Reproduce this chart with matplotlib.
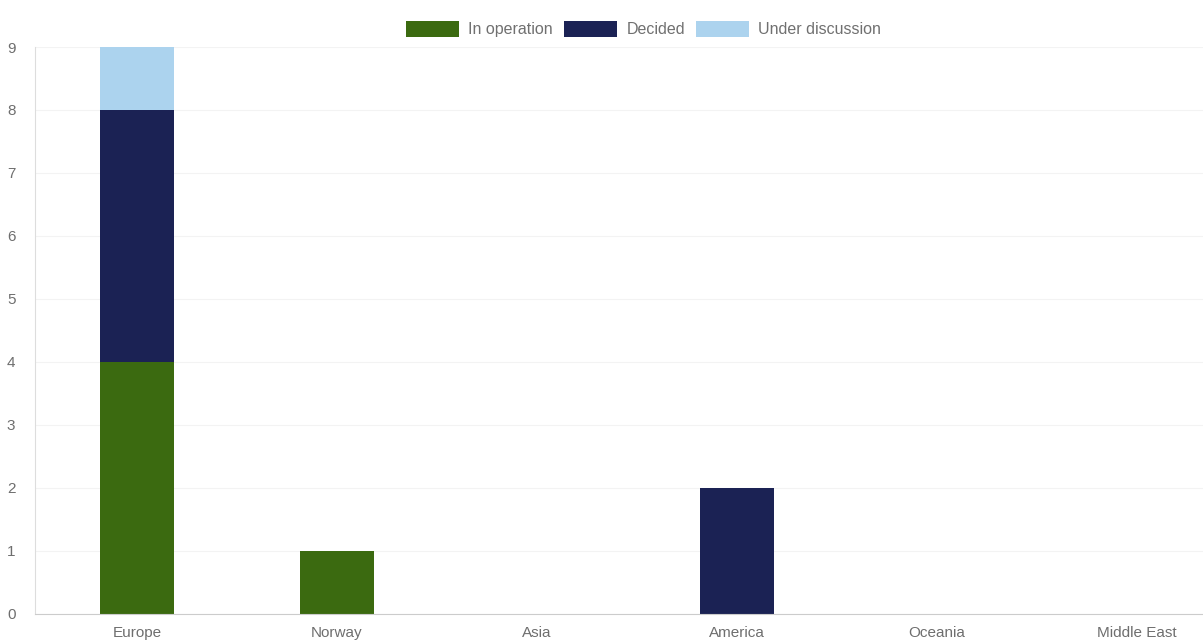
import numpy as np
import matplotlib
matplotlib.use("Agg")
import matplotlib.pyplot as plt

plt.rcParams["font.family"] = ["Liberation Sans", "DejaVu Sans"]

# ── data ──────────────────────────────────────────────────────────────────────
regions      = ["Europe", "Norway", "Asia", "America", "Oceania", "Middle East"]
in_operation = [4, 1, 0, 0, 0, 0]
decided      = [4, 0, 0, 2, 0, 0]
discussion   = [1, 0, 0, 0, 0, 0]

C_OP   = "#3b6a10"
C_DEC  = "#1b2254"
C_DISC = "#acd3ee"

fig = plt.figure(figsize=(12.03, 6.44), dpi=100)
ax  = fig.add_axes([0.029, 0.047, 0.971, 0.88])

x   = np.arange(len(regions))
w   = 0.37
op  = np.array(in_operation)
dec = np.array(decided)
dis = np.array(discussion)

ax.bar(x, op,  w, color=C_OP,   label="In operation", zorder=2)
ax.bar(x, dec, w, bottom=op,       color=C_DEC,  label="Decided", zorder=2)
ax.bar(x, dis, w, bottom=op + dec, color=C_DISC, label="Under discussion", zorder=2)

ax.set_xlim(-0.51, 5.33)
ax.set_ylim(0, 9)
ax.set_yticks(range(10))
ax.set_xticks(x)
ax.set_xticklabels(regions)
ax.tick_params(axis="both", length=0, colors="#6e6e6e", labelsize=11)
ax.tick_params(axis="y", pad=14)
ax.tick_params(axis="x", pad=9)

ax.grid(axis="y", color="#f3f3f3", linewidth=0.8, zorder=0)
for s in ("top", "right"):
    ax.spines[s].set_visible(False)
ax.spines["left"].set_color("#dddddd")
ax.spines["bottom"].set_color("#cccccc")

fig.legend(loc="upper center", bbox_to_anchor=(0.535, 0.99), ncol=3, frameon=False,
           fontsize=11.5, handlelength=3.3, handleheight=1.2, columnspacing=0.7,
           handletextpad=0.6, labelcolor="#707070")

fig.savefig("out.png", dpi=100)
